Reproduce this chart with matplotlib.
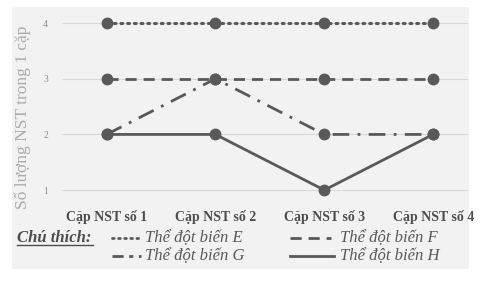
import matplotlib
matplotlib.use("Agg")
import matplotlib.pyplot as plt
from matplotlib.patches import Rectangle
from matplotlib.lines import Line2D

categories = ["Cặp NST số 1", "Cặp NST số 2", "Cặp NST số 3", "Cặp NST số 4"]
yticks = [1, 2, 3, 4]
series_names = ["Thể đột biến E", "Thể đột biến F", "Thể đột biến G", "Thể đột biến H"]
E = [4, 4, 4, 4]
F = [3, 3, 3, 3]
G = [2, 3, 2, 2]
H = [2, 2, 1, 2]

line_col = "#595959"
serif = ["Liberation Serif", "DejaVu Serif"]

fig = plt.figure(figsize=(5.04, 2.81), dpi=100)
fig.patch.set_facecolor("white")
W, Hpx = 504, 281

# grey panel behind everything
fig.add_artist(Rectangle((12 / W, 1 - 269 / Hpx), (469 - 12) / W, (269 - 7) / Hpx,
                         transform=fig.transFigure, facecolor="#f2f2f2",
                         edgecolor="none", zorder=-10))

# axes: left 62px, right 468px; y=4.2 at 12px, y=0.75 at 204px
ax = fig.add_axes([62 / W, 1 - 204 / Hpx, (468 - 62) / W, (204 - 12) / Hpx])
ax.set_facecolor("none")
x = list(range(len(categories)))
ax.set_xlim(-0.41, 3.32)
ax.set_ylim(0.75, 4.2)

ax.set_yticks(yticks)
ax.yaxis.grid(True, color="#d9d9d9", linewidth=0.8, zorder=0)
ax.set_axisbelow(True)
for s in ax.spines.values():
    s.set_visible(False)
ax.tick_params(axis="both", length=0)
ax.set_yticklabels([str(v) for v in yticks], fontsize=7, color="#8c8c8c",
                   family=serif)
ax.tick_params(axis="y", pad=10)
ax.set_xticks(x)
ax.set_xticklabels(categories, fontsize=10, fontweight="bold", color="#4d4d4d",
                   family=serif)
ax.tick_params(axis="x", pad=4)
ax.set_ylabel("Số lượng NST trong 1 cặp", fontsize=12.5, color="#aaaaaa",
              family=serif)
ax.yaxis.set_label_coords(-0.076, 0.45)

styles = [
    (E, (0, (0.6, 1.6))),
    (F, (0, (4, 2.5))),
    (G, (0, (6, 3, 1, 3))),
    (H, "-"),
]
for vals, ls in styles:
    if ls == (0, (0.6, 1.6)):
        ax.plot(x, vals, color=line_col, linestyle=ls, linewidth=2.2,
                dash_capstyle="round", marker="o", markersize=7.5, zorder=3)
    else:
        ax.plot(x, vals, color=line_col, linestyle=ls, linewidth=2.0,
                marker="o", markersize=7.5, zorder=3)

# legend
fig.text(17 / W, 1 - 238 / Hpx, "Chú thích:", fontsize=12, fontweight="bold",
         fontstyle="italic", color="#4d4d4d", family=serif, va="center", ha="left")
fig.add_artist(Line2D([17 / W, 93 / W], [1 - 245 / Hpx, 1 - 245 / Hpx],
                      transform=fig.transFigure, color="#4d4d4d", linewidth=1.0))

entries = [
    (112, 141, 238, (0, (0.6, 1.6)), series_names[0], 145),
    (290, 331, 238, (0, (4, 2.5)), series_names[1], 340),
    (112, 141, 256, (0, (4, 2, 1.5, 2)), series_names[2], 145),
    (290, 334, 256, "-", series_names[3], 340),
]
for x0, x1, yy, ls, name, tx in entries:
    kw = dict(dash_capstyle="round") if ls == (0, (0.6, 1.6)) else {}
    fig.add_artist(Line2D([x0 / W, x1 / W], [1 - yy / Hpx, 1 - yy / Hpx],
                          transform=fig.transFigure, color=line_col,
                          linewidth=2.0, linestyle=ls, **kw))
    fig.text(tx / W, 1 - yy / Hpx, name, fontsize=12, fontstyle="italic",
             color="#595959", family=serif, va="center", ha="left")

fig.savefig("out.png", dpi=100, facecolor="white")
